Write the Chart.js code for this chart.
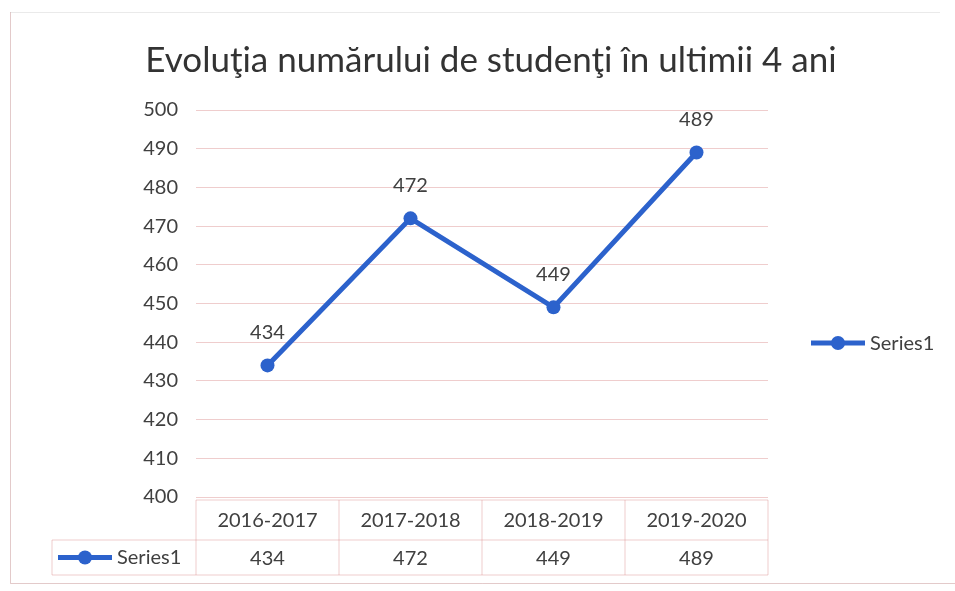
<!DOCTYPE html>
<html>
<head>
  <meta charset="utf-8">
  <title>Evoluţia numărului de studenţi</title>
  <script src="https://cdn.jsdelivr.net/npm/chart.js"></script>
  <style>
    body { margin: 0; background: #fff; }
    #wrap { width: 955px; height: 591px; }
  </style>
</head>
<body>
  <div id="wrap"><canvas id="myChart"></canvas></div>
  <script>
    const years = ['2016-2017', '2017-2018', '2018-2019', '2019-2020'];
    const students = [434, 472, 449, 489];
    const seriesName = 'Series1';
    const chartTitle = 'Evoluţia numărului de studenţi în ultimii 4 ani';
    const yMin = 400, yMax = 500, yStep = 10;

    const lineBlue = '#2c62cc';
    const textGrey = '#404040';
    const pinkLine = 'rgba(214, 130, 130, 0.4)';
    const fontName = 'Lato, "Liberation Sans", sans-serif';

    // excel style legend key: thick line with a dot in the middle
    function drawKey(ctx, x, y) {
      ctx.save();
      ctx.strokeStyle = lineBlue;
      ctx.lineWidth = 5;
      ctx.beginPath();
      ctx.moveTo(x, y);
      ctx.lineTo(x + 54, y);
      ctx.stroke();
      ctx.fillStyle = lineBlue;
      ctx.beginPath();
      ctx.arc(x + 27, y, 7, 0, Math.PI * 2);
      ctx.fill();
      ctx.restore();
    }

    const extras = {
      id: 'extras',
      afterDatasetsDraw(chart) {
        const ctx = chart.ctx;
        const meta = chart.getDatasetMeta(0);
        ctx.save();
        ctx.font = '20px ' + fontName;
        ctx.fillStyle = textGrey;
        ctx.textAlign = 'center';
        ctx.textBaseline = 'middle';
        meta.data.forEach((pt, i) => {
          ctx.fillText(students[i], pt.x, pt.y - 33);
        });
        ctx.restore();
      },
      afterDraw(chart) {
        const ctx = chart.ctx;
        const area = chart.chartArea;
        const x = chart.scales.x;
        const colW = (area.right - area.left) / years.length;
        const top = area.bottom + 3;
        const mid = top + 40;
        const bot = mid + 35;
        const keyLeft = 52;

        ctx.save();
        // data table grid
        ctx.strokeStyle = pinkLine;
        ctx.lineWidth = 1;
        ctx.beginPath();
        ctx.moveTo(area.left, top); ctx.lineTo(area.right, top);
        ctx.moveTo(keyLeft, mid); ctx.lineTo(area.right, mid);
        ctx.moveTo(keyLeft, bot); ctx.lineTo(area.right, bot);
        ctx.moveTo(keyLeft, mid); ctx.lineTo(keyLeft, bot);
        for (let i = 0; i <= years.length; i++) {
          const cx = area.left + i * colW;
          ctx.moveTo(cx, top); ctx.lineTo(cx, bot);
        }
        ctx.stroke();

        ctx.font = '20px ' + fontName;
        ctx.fillStyle = textGrey;
        ctx.textAlign = 'center';
        ctx.textBaseline = 'middle';
        years.forEach((yr, i) => {
          const cx = x.getPixelForValue(i);
          ctx.fillText(yr, cx, (top + mid) / 2 + 1);
          ctx.fillText(students[i], cx, (mid + bot) / 2 + 1);
        });

        // key inside the table
        drawKey(ctx, keyLeft + 6, (mid + bot) / 2);
        ctx.textAlign = 'left';
        ctx.fillText(seriesName, keyLeft + 65, (mid + bot) / 2);

        // legend on the right
        drawKey(ctx, 811, 343);
        ctx.fillText(seriesName, 870, 344);

        // outer frame of the chart
        ctx.strokeStyle = 'rgba(200, 150, 150, 0.5)';
        ctx.beginPath();
        ctx.moveTo(10.5, 12); ctx.lineTo(10.5, 583.5); ctx.lineTo(955, 583.5);
        ctx.stroke();
        ctx.strokeStyle = 'rgba(150, 150, 150, 0.2)';
        ctx.beginPath();
        ctx.moveTo(10.5, 12.5); ctx.lineTo(940, 12.5);
        ctx.stroke();
        ctx.restore();
      }
    };

    const ctx = document.getElementById('myChart').getContext('2d');
    const myChart = new Chart(ctx, {
      type: 'line',
      data: {
        labels: years,
        datasets: [{
          label: seriesName,
          data: students,
          borderColor: lineBlue,
          backgroundColor: lineBlue,
          borderWidth: 5,
          tension: 0,
          pointRadius: 7,
          pointHoverRadius: 7,
          pointBackgroundColor: lineBlue,
          pointBorderWidth: 0
        }]
      },
      options: {
        responsive: true,
        maintainAspectRatio: false,
        animation: false,
        layout: {
          padding: { top: 40, left: 27, right: 0, bottom: 0 }
        },
        scales: {
          x: {
            offset: true,
            grid: { display: false },
            border: { display: false },
            ticks: { display: false },
            afterFit: function (scale) {
              scale.height = 94;
            }
          },
          y: {
            min: yMin,
            max: yMax,
            grid: { color: pinkLine, drawTicks: false },
            border: { display: false },
            ticks: {
              stepSize: yStep,
              padding: 18,
              color: textGrey,
              font: { family: fontName, size: 20 }
            },
            afterFit: function (scale) {
              scale.width = 169;
            }
          },
          // empty axis on the right, only keeps room for the legend
          legendRoom: {
            position: 'right',
            display: true,
            grid: { display: false },
            border: { display: false },
            ticks: { display: false },
            afterFit: function (scale) {
              scale.width = 187;
            }
          }
        },
        plugins: {
          legend: { display: false },
          tooltip: { enabled: false },
          title: {
            display: true,
            text: chartTitle,
            color: '#333333',
            font: { family: fontName, size: 35, weight: 'normal' },
            padding: { top: 0, bottom: 28 }
          }
        }
      },
      plugins: [extras]
    });
  </script>
</body>
</html>
